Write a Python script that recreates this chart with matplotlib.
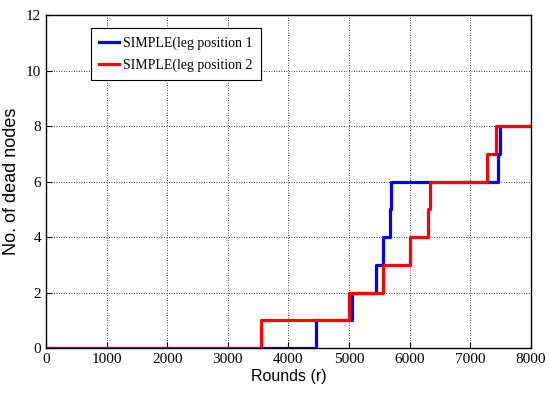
import matplotlib
matplotlib.use("Agg")
import matplotlib.pyplot as plt

# step data: round at which the count changes, dead-node count
blue_rounds = [0, 4450, 5040, 5440, 5565, 5680, 5690, 7455, 7485, 8000]
blue_dead = [0, 1, 2, 3, 4, 5, 6, 7, 8, 8]
red_rounds = [0, 3550, 5000, 5555, 6005, 6295, 6335, 7280, 7415, 8000]
red_dead = [0, 1, 2, 3, 4, 5, 6, 7, 8, 8]

x_ticks = [0, 1000, 2000, 3000, 4000, 5000, 6000, 7000, 8000]
y_ticks = [0, 2, 4, 6, 8, 10, 12]

fig = plt.figure(figsize=(5.49, 3.98), dpi=100)
ax = fig.add_axes([0.0838, 0.1256, 0.8834, 0.8367])

ax.plot(blue_rounds, blue_dead, drawstyle="steps-post", color="#0000ff",
        lw=2.3, label="SIMPLE(leg position 1")
ax.plot(red_rounds, red_dead, drawstyle="steps-post", color="#ff0000",
        lw=2.3, label="SIMPLE(leg position 2")

ax.set_xlim(0, 8000)
ax.set_ylim(0, 12)
ax.set_xticks(x_ticks)
ax.set_yticks(y_ticks)
ax.grid(True, color="black", linestyle=(0, (1, 2)), linewidth=0.6)
ax.tick_params(direction="in", length=4, width=0.8, labelsize=11)
for lab in ax.get_xticklabels() + ax.get_yticklabels():
    lab.set_fontfamily("Liberation Serif")
for s in ax.spines.values():
    s.set_linewidth(1.0)

ax.set_xlabel("Rounds (r)", fontfamily="Liberation Sans", fontsize=11.5, labelpad=2)
ax.set_ylabel("No. of dead nodes", fontfamily="Liberation Sans", fontsize=13,
              labelpad=4)

leg = ax.legend(loc="upper left", bbox_to_anchor=(0.093, 0.961), borderaxespad=0,
                prop={"family": "Liberation Serif", "size": 10}, fancybox=False,
                edgecolor="black", framealpha=1, handlelength=1.4,
                handletextpad=0.3, borderpad=0.6, labelspacing=0.6)
leg.get_frame().set_linewidth(0.8)

fig.savefig("out.png", dpi=100)
